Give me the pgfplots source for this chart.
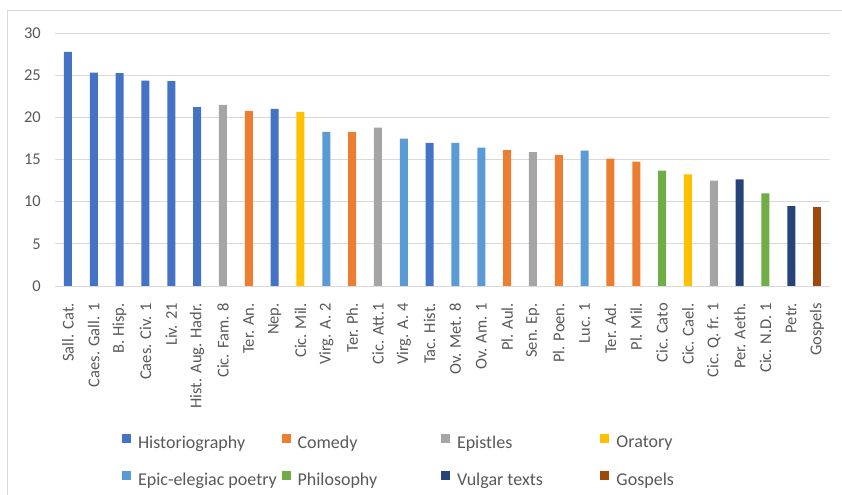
\documentclass[border=0pt]{standalone}
\usepackage{pgfplots}
\pgfplotsset{compat=1.18}
\usepackage{fontspec}
\setmainfont{Carlito}
\definecolor{hist}{HTML}{4472C4}
\definecolor{com}{HTML}{ED7D31}
\definecolor{epi}{HTML}{A5A5A5}
\definecolor{ora}{HTML}{FFC000}
\definecolor{epic}{HTML}{5B9BD5}
\definecolor{phil}{HTML}{70AD47}
\definecolor{vulg}{HTML}{264478}
\definecolor{gosp}{HTML}{9E480E}
\definecolor{txt}{HTML}{595959}
\definecolor{gridc}{HTML}{D9D9D9}
\begin{document}
\begin{tikzpicture}
\useasboundingbox (0,0) rectangle (842bp,495bp);
\draw[gridc, line width=1bp] (7.5bp,0) -- (7.5bp,484bp) -- (842bp,484bp);
\begin{axis}[
  at={(55bp,209bp)}, anchor=south west,
  scale only axis, width=775bp, height=253bp,
  xmin=-0.5, xmax=29.5, ymin=0, ymax=30,
  ytick={0,5,...,30},
  xtick={0,...,29},
  xticklabels={Sall. Cat., Caes. Gall. 1, B. Hisp., Caes. Civ. 1, Liv. 21, Hist. Aug. Hadr., Cic. Fam. 8, Ter. An., Nep., Cic. Mil., Virg. A. 2, Ter. Ph., Cic. Att.1, Virg. A. 4, Tac. Hist., Ov. Met. 8, Ov. Am. 1, Pl. Aul., Sen. Ep., Pl. Poen., Luc. 1, Ter. Ad., Pl. Mil., Cic. Cato, Cic. Cael., Cic. Q. fr. 1, Per. Aeth., Cic. N.D. 1, Petr., Gospels},
  ymajorgrids, grid style={gridc, line width=1bp},
  axis line style={draw=none},
  major tick length=0pt,
  /pgf/number format/assume math mode=true,
  yticklabel style={font=\fontsize{16.5bp}{19bp}\selectfont, text=txt, anchor=east, inner sep=0pt, xshift=-14bp},
  xticklabel style={font=\fontsize{16.5bp}{19bp}\selectfont, text=txt, rotate=90, anchor=east, inner sep=0pt},
  xticklabel shift=17bp,
  legend image code/.code={\fill[#1,draw=none] (0bp,0bp) rectangle (9bp,9bp);},
  legend columns=4,
  legend style={draw=none, fill=none, inner sep=0pt, outer sep=0pt,
    at={(0.0865,-0.584)}, anchor=north west,
    row sep=19bp,
    /tikz/every odd column/.append style={column sep=5bp},
    /tikz/every even column/.append style={column sep=0bp},
    font=\fontsize{18bp}{21bp}\selectfont, text=txt},
  legend cell align=left,
]
\addplot[ybar, bar width=8bp, fill=hist, draw=none] coordinates {(0,27.75) (1,25.29) (2,25.25) (3,24.34) (4,24.3) (5,21.2) (8,21.0) (14,16.97)};
\addlegendentry{\makebox[141.5bp][l]{Historiography}}
\addplot[ybar, bar width=8bp, fill=com, draw=none] coordinates {(7,20.77) (11,18.24) (17,16.1) (19,15.54) (21,15.1) (22,14.75)};
\addlegendentry{\makebox[141.5bp][l]{Comedy}}
\addplot[ybar, bar width=8bp, fill=epi, draw=none] coordinates {(6,21.48) (12,18.79) (18,15.86) (25,12.49)};
\addlegendentry{\makebox[141.5bp][l]{Epistles}}
\addplot[ybar, bar width=8bp, fill=ora, draw=none] coordinates {(9,20.65) (24,13.25)};
\addlegendentry{\makebox[141.5bp][l]{Oratory}}
\addplot[ybar, bar width=8bp, fill=epic, draw=none] coordinates {(10,18.27) (13,17.48) (15,16.97) (16,16.41) (20,16.06)};
\addlegendentry{\makebox[141.5bp][l]{Epic-elegiac poetry}}
\addplot[ybar, bar width=8bp, fill=phil, draw=none] coordinates {(23,13.68) (27,10.99)};
\addlegendentry{\makebox[141.5bp][l]{Philosophy}}
\addplot[ybar, bar width=8bp, fill=vulg, draw=none] coordinates {(26,12.65) (28,9.48)};
\addlegendentry{\makebox[141.5bp][l]{Vulgar texts}}
\addplot[ybar, bar width=8bp, fill=gosp, draw=none] coordinates {(29,9.36)};
\addlegendentry{\makebox[141.5bp][l]{Gospels}}
\end{axis}
\end{tikzpicture}
\end{document}
